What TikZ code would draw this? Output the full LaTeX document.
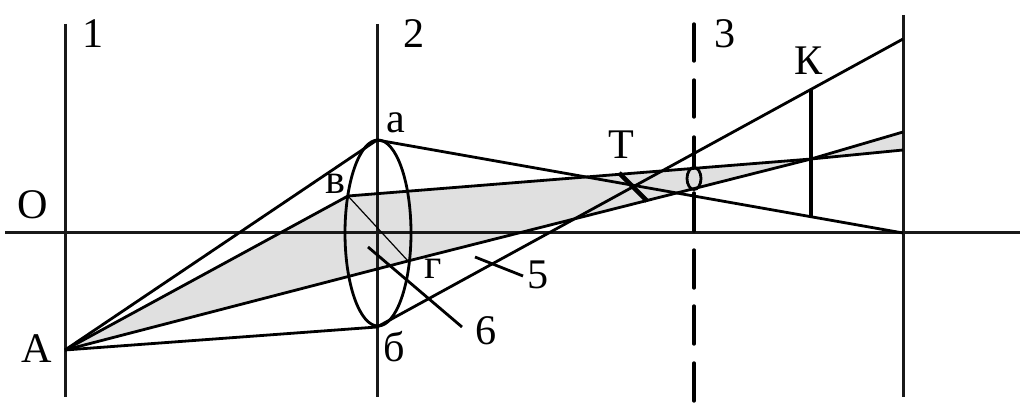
\documentclass[tikz,border=0pt]{standalone}
\usepackage{fontspec}
\setmainfont{Liberation Serif}
\tikzset{
	ray/.style={line width=0.07cm},
	axisline/.style={line width=0.075cm,black!90},
	thickbar/.style={line width=0.115cm},
	lbl/.style={inner sep=0pt,font=\fontsize{30}{32}\selectfont},
	dashbar/.style={line width=0.085cm,line cap=round},
}
\begin{document}
\begin{tikzpicture}[x=0.025cm,y=-0.025cm]
	\useasboundingbox (0,0) rectangle (1024,406);
	\coordinate (A) at (65,350);
	\coordinate (a) at (377,140);
	\coordinate (b) at (377,327);
	\coordinate (v) at (348,196);
	\coordinate (g) at (408,261);
	\coordinate (K) at (811,159);
	\coordinate (Ktop) at (811,90);
	\coordinate (Kbot) at (811,217);
	\coordinate (Ttop) at (619,173);
	\coordinate (Tbot) at (647,201);
	\coordinate (Ea) at (903,233);
	\coordinate (Eb) at (903,39);
	\coordinate (Ev) at (903,150);
	\coordinate (Eg) at (903,132);
	% shaded beam
	\fill[black!12] (A) -- (v) -- (K) -- (g) -- cycle;
	\fill[black!12] (K) -- (Eg) -- (Ev) -- cycle;
	% axis and planes
	\coordinate (Ol) at (5,233);
	\coordinate (Or) at (1020,233);
	\coordinate (P1t) at (65.5,24);
	\coordinate (P1b) at (65.5,397);
	\coordinate (P2t) at (377.5,24);
	\coordinate (P2b) at (377.5,397);
	\coordinate (P4t) at (903.5,15);
	\coordinate (P4b) at (903.5,397);
	\draw[axisline] (Ol) -- (Or);
	\draw[axisline] (P1t) -- (P1b);
	\draw[axisline] (P2t) -- (P2b);
	\draw[axisline] (P4t) -- (P4b);
	% plane 3
	\foreach \ya/\yb in {24/61,80/117,137/167,193/231,250/288,306/344,363/401}
		\draw[dashbar] (694,\ya) -- (694,\yb);
	% rays
	\draw[ray] (A) -- (a) -- (Ea);
	\draw[ray] (A) -- (b) -- (Eb);
	\draw[ray] (A) -- (v) -- (K) -- (Ev);
	\draw[ray] (A) -- (g) -- (K) -- (Eg);
	\draw[line width=0.03cm] (v) -- (g);
	\draw[ray] (378,233) ellipse (33 and 93);
	\draw[ray] (694,178.5) ellipse (7 and 11);
	\draw[thickbar] (Ttop) -- (Tbot);
	\draw[thickbar] (Ktop) -- (Kbot);
	% leaders
	\coordinate (L5a) at (475,257);
	\coordinate (L5b) at (523,276);
	\coordinate (L6a) at (368,247);
	\coordinate (L6b) at (462,327);
	\draw[ray] (L5a) -- (L5b);
	\draw[ray] (L6a) -- (L6b);
	% labels
	\node[lbl] (n1) at (93,34) {1};
	\node[lbl] (n2) at (414,34) {2};
	\node[lbl] (n3) at (725,34) {3};
	\node[lbl] (n5) at (538,275) {5};
	\node[lbl] (n6) at (486,331) {6};
	\node[lbl] (nO) at (33,205) {О};
	\node[lbl] (nA) at (37,349) {А};
	\node[lbl] (nT) at (621,145) {Т};
	\node[lbl] (nK) at (809,61) {К};
	\node[lbl] (na) at (396,123) {а};
	\node[lbl] (nb) at (394,347) {б};
	\node[lbl] (nv) at (335,184) {в};
	\node[lbl] (ng) at (433,269) {г};
\end{tikzpicture}
\end{document}
